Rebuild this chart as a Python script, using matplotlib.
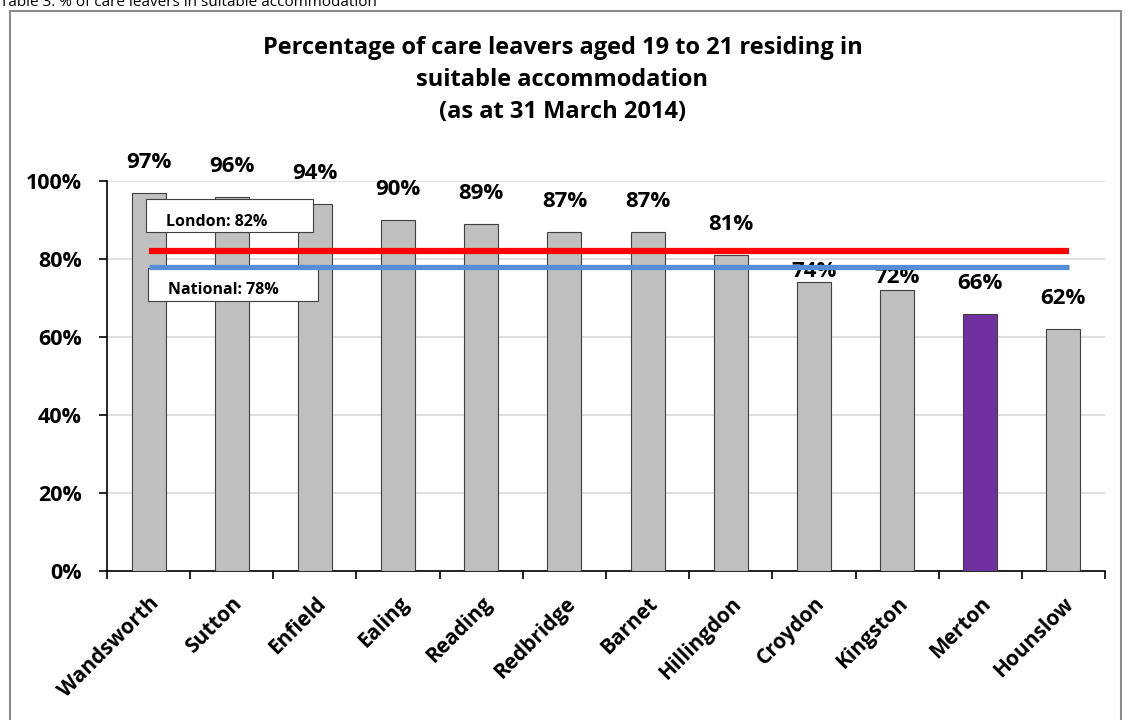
import matplotlib
matplotlib.use("Agg")
import matplotlib.pyplot as plt
from matplotlib.patches import Rectangle

plt.rcParams['font.family'] = ['Open Sans', 'DejaVu Sans']

categories = ["Wandsworth", "Sutton", "Enfield", "Ealing", "Reading", "Redbridge",
              "Barnet", "Hillingdon", "Croydon", "Kingston", "Merton", "Hounslow"]
values = [97, 96, 94, 90, 89, 87, 87, 81, 74, 72, 66, 62]
label_offsets = [22, 22, 22, 22, 22, 22, 22, 22, 8, 9, 22, 22]
london = 82
national = 78
bar_colors = ["#c0c0c0"] * 10 + ["#7030a0", "#c0c0c0"]

fig = plt.figure(figsize=(11.25, 7.2), dpi=100)
ax = fig.add_axes([107/1125, 1-571/720, (1105-107)/1125, (571-181)/720])

x = list(range(len(categories)))
ax.bar(x, values, width=0.41, color=bar_colors, edgecolor="#404040", linewidth=0.8, zorder=3)

for xi, v, off in zip(x, values, label_offsets):
    ax.annotate(f"{v}%", (xi, v), xytext=(0, off), textcoords="offset points",
                ha="center", va="center", fontsize=16, fontweight="bold", zorder=5)

ax.plot([x[0], x[-1] + 0.07], [london, london], color="#ff0000", linewidth=4.5, zorder=8, solid_capstyle="butt")
ax.plot([x[0], x[-1] + 0.07], [national, national], color="#558ed5", linewidth=3.8, zorder=8, solid_capstyle="butt")

# reference-line label boxes
ax.add_patch(Rectangle((-0.031, 86.9), 2.008, 8.5, facecolor="white", edgecolor="#404040",
                       linewidth=0.8, zorder=6))
ax.text(0.209, 89.5, "London: 82%", fontsize=11.5, fontweight="bold", ha="left", va="center", zorder=7)
ax.add_patch(Rectangle((-0.007, 69.3), 2.044, 8.4, facecolor="white", edgecolor="#404040",
                       linewidth=0.8, zorder=6))
ax.text(0.233, 72.0, "National: 78%", fontsize=11.5, fontweight="bold", ha="left", va="center", zorder=7)

ax.set_xlim(-0.5, len(categories) - 0.5)
ax.set_ylim(0, 100)
ax.set_yticks([0, 20, 40, 60, 80, 100])
ax.set_yticklabels([f"{t}%" for t in [0, 20, 40, 60, 80, 100]], fontsize=15.5, fontweight="bold")
ax.yaxis.grid(True, color="#d9d9d9", linewidth=1.2, zorder=0)
ax.set_axisbelow(True)

ax.set_xticks(x)
ax.set_xticklabels(categories, rotation=45, ha="right", rotation_mode="anchor",
                   fontsize=15, fontweight="bold")
ax.tick_params(axis="x", length=0, pad=16)
ax.set_xticks([i - 0.5 for i in range(len(categories) + 1)], minor=True)
ax.tick_params(axis="x", which="minor", length=6, width=1.2, direction="out", color="black")
ax.tick_params(axis="y", length=6, width=1.2, direction="out", pad=12)

for s in ["top", "right"]:
    ax.spines[s].set_visible(False)
ax.spines["left"].set_linewidth(1.2)
ax.spines["bottom"].set_linewidth(1.2)

fig.text(0.5, 1-80/720, "Percentage of care leavers aged 19 to 21 residing in\nsuitable accommodation\n(as at 31 March 2014)",
         ha="center", va="center", fontsize=17, fontweight="bold", linespacing=1.42)

fig.add_artist(Rectangle((10/1125, -0.01), (1121-10)/1125, 1-11/720 + 0.01,
                         transform=fig.transFigure, fill=False, edgecolor="#8c8c8c", linewidth=1.5))

fig.text(0.0, 1-6/720, "Table 3: % of care leavers in suitable accommodation", ha="left", va="baseline",
         fontsize=11)

fig.savefig("out.png", dpi=100)
